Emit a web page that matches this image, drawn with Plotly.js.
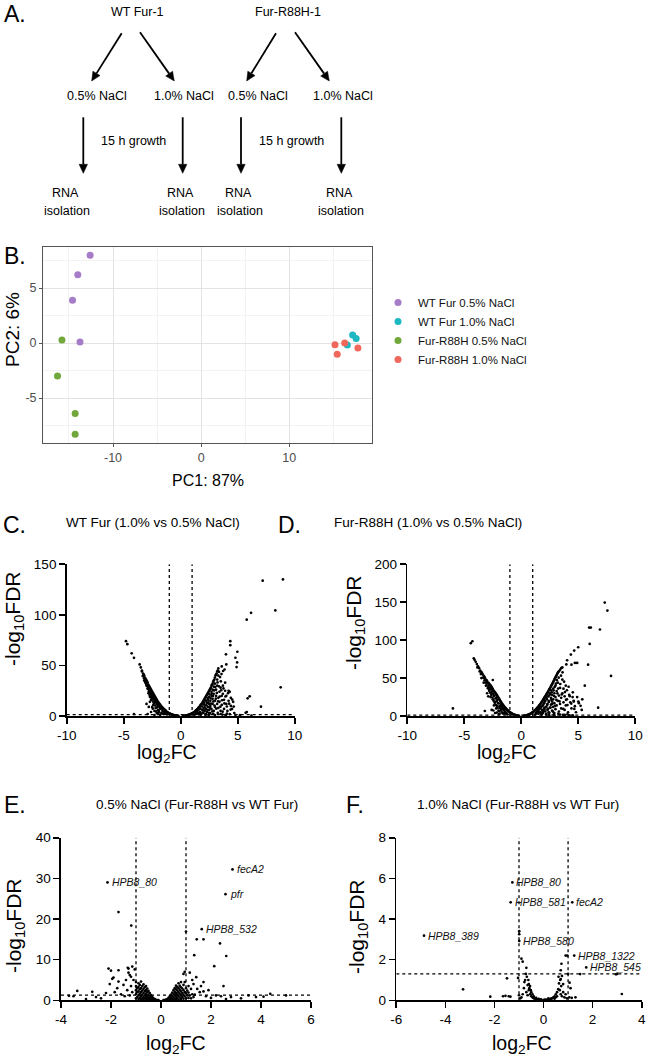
<!DOCTYPE html>
<html>
<head>
<meta charset="utf-8">
<script src="https://cdn.plot.ly/plotly-3.0.1.min.js"></script>
<style>
html,body{margin:0;padding:0;background:#fff;}
#chart{width:650px;height:1060px;}
</style>
</head>
<body>
<div id="chart"></div>
<script>
// ---------------- DATA ----------------
// Panel B : PCA (PC1, PC2)
const pcaGroups = ['WT Fur 0.5% NaCl', 'WT Fur 1.0% NaCl', 'Fur-R88H 0.5% NaCl', 'Fur-R88H 1.0% NaCl'];
const pcaWT05x = [-12.6, -14.0, -14.6, -13.75];
const pcaWT05y = [7.97, 6.2, 3.9, 0.1];
const pcaWT10x = [17.2, 17.6, 16.6];
const pcaWT10y = [0.73, 0.42, -0.18];
const pcaR05x = [-15.8, -16.3, -14.3, -14.3];
const pcaR05y = [0.27, -3.0, -6.4, -8.3];
const pcaR10x = [15.2, 15.45, 16.3, 17.8];
const pcaR10y = [-0.15, -1.03, 0.0, -0.45];
const pcaColors = ['#A67BC8', '#1DB8C1', '#72A83B', '#F0675C'];

// Panel C : WT Fur (1.0% vs 0.5% NaCl)  [log2FC, -log10FDR]
const volcanoC = [
[7.19,133.8],[8.97,135],[8.3,104.4],[6.17,102],[5.79,95.2],[8.77,28.4],[5.87,17.5],[6.05,19.5],[7.04,9.2],[5.8,4],[5.7,3.2],
[4.35,74],[4.35,70],[3.97,61],[4.97,63.5],[4.8,57.6],[4.95,53],[4.9,48.4],[4.0,51],[3.6,49],
[0.2,0.1],[0.3,0.2],[0.4,0.4],[0.5,0.6],[0.6,0.9],[0.7,1.2],[0.8,1.6],[0.9,2],[1.0,2.6],[1.1,3.2],[1.2,4],[1.3,5],[1.4,6],[1.5,7.2],[1.6,8.5],[1.7,10],[1.8,11.5],[1.9,13],[2.0,15],[2.1,17],[2.2,19],[2.3,21],[2.4,23],[2.5,25],[2.6,27],[2.7,30],[2.8,32],[2.9,35],[3.0,38],[3.1,41],[3.2,44],[3.3,47],
[3.25,45],[3.15,42],[3.05,40],[2.95,36],[2.85,34],[2.75,31],[2.65,28],[2.55,26],[2.45,24],[2.35,22],[2.25,20],[2.15,18],[2.05,16],[1.95,14],[1.85,12],[1.75,11],[1.65,9],[1.55,8],[1.45,6.6],[1.35,5.5],[1.25,4.5],[1.15,3.6],[1.05,2.9],[0.95,2.3],[0.85,1.8],[0.75,1.4],[0.65,1],[0.55,0.7],[0.45,0.5],[0.35,0.3],
[1.2,1],[1.4,2],[1.5,3],[1.6,1.5],[1.7,4],[1.8,2],[1.9,6],[2.0,3],[2.0,8],[2.1,5],[2.1,11],[2.2,2],[2.2,7],[2.3,13],[2.3,4],[2.4,9],[2.4,16],[2.5,6],[2.5,12],[2.5,19],[2.6,3],[2.6,10],[2.6,15],[2.7,7],[2.7,20],[2.7,24],[2.8,12],[2.8,17],[2.8,26],[2.9,5],[2.9,22],[2.9,29],[3.0,9],[3.0,15],[3.0,32],[3.1,20],[3.1,26],[3.2,12],[3.2,30],[3.2,36],[3.3,8],[3.3,18],[3.3,40],[3.4,24],[3.4,14],[3.5,28],[3.5,5],[3.6,20],[3.6,11],[3.7,22],[3.7,30],[3.8,16],[3.8,7],[3.9,25],[3.9,33],[4.0,12],[4.0,20],[4.1,5],[4.2,15],[4.2,25],[4.3,2],[4.4,10],[4.4,18],[4.5,7],[4.6,14],[4.7,3],[4.3,24],[3.5,2],[3.0,1],[2.5,1.5],[4.8,1],[5.2,0.8],[6.2,0.5],
[1.33,2.4],[1.47,4.1],[1.58,6.3],[1.62,2.7],[1.73,7.1],[1.77,1.2],[1.86,9.4],[1.92,3.4],[1.98,11.6],[2.03,5.5],[2.07,13.3],[2.12,8.7],[2.17,1.1],[2.23,15.2],[2.27,10.6],[2.33,6.1],[2.37,17.8],[2.42,13.5],[2.46,3.2],[2.52,21.5],[2.57,8.2],[2.63,17.4],[2.67,12.3],[2.72,22.1],[2.78,4.7],[2.83,19.7],[2.87,14.4],[2.93,25.3],[2.97,10.4],[3.03,28.6],[3.08,17.2],[3.12,7.3],[3.17,22.8],[3.23,33.2],[3.28,14.6],[3.35,29.4],[3.42,19.2],[3.48,9.2],[3.55,25.5],[3.62,15.6],[3.68,4.3],[3.75,27.3],[3.83,12.5],[3.92,19.3],[4.05,9.4],[4.15,22.6],[4.25,12.2],[4.38,6.4],[4.52,16.3],[4.65,9.3],[3.45,38.5],[3.52,34.3],[3.36,43.6],[3.58,41.5],[3.72,44.5],[3.85,46],[2.45,1.1],[2.85,2.2],[3.25,3.1],[3.65,1.4],[4.05,2.3],[3.95,0.8],
[-4.8,74],[-4.68,71],[-4.3,62],[-4.1,57.5],[-3.6,51],[-3.5,48],[-3.4,45],[-4.1,2],[-2.7,14],[-2.6,4],[-2.9,2],
[-0.2,0.1],[-0.3,0.2],[-0.4,0.4],[-0.5,0.6],[-0.6,0.9],[-0.7,1.2],[-0.8,1.6],[-0.9,2],[-1.0,2.6],[-1.1,3.2],[-1.2,4],[-1.3,5],[-1.4,6],[-1.5,7],[-1.6,8.3],[-1.7,9.5],[-1.8,11],[-1.9,12.5],[-2.0,14],[-2.1,16],[-2.2,18],[-2.3,20],[-2.4,22],[-2.5,24],[-2.6,26],[-2.7,28],[-2.8,30],[-2.9,33],[-3.0,35],[-3.1,37],[-3.2,40],[-3.3,42],[-3.4,44],
[-0.35,0.3],[-0.45,0.5],[-0.55,0.7],[-0.65,1],[-0.75,1.4],[-0.85,1.8],[-0.95,2.3],[-1.05,2.9],[-1.15,3.6],[-1.25,4.5],[-1.35,5.5],[-1.45,6.5],[-1.55,7.6],[-1.65,8.9],[-1.75,10.2],[-1.85,11.7],[-1.95,13.2],[-2.05,15],[-2.15,17],[-2.25,19],[-2.35,21],[-2.45,23],[-2.55,25],[-2.65,27],[-2.75,29],[-2.85,31],[-2.95,34],[-3.05,36],[-3.15,38],[-3.25,41],
[-1.2,1.5],[-1.4,3],[-1.5,2],[-1.6,5],[-1.7,3],[-1.8,7],[-1.9,4],[-2.0,10],[-2.0,6],[-2.1,12],[-2.1,3],[-2.2,8],[-2.2,14],[-2.3,16],[-2.3,5],[-2.4,11],[-2.4,18],[-2.5,20],[-2.5,9],[-2.6,16],[-2.6,22],[-2.7,19],[-2.8,24],[-2.8,9],[-2.9,27],[-3.0,30],[-3.1,33],[-3.2,35],[-2.3,1],[-1.8,1],[-3.0,12],
[-1.33,2.3],[-1.47,4.2],[-1.58,6.4],[-1.63,2.5],[-1.73,7.7],[-1.88,9.1],[-1.93,5.3],[-2.03,11.8],[-2.08,8.6],[-2.17,13.6],[-2.23,10.4],[-2.27,15.1],[-2.33,12.6],[-2.37,17.7],[-2.43,14.3],[-2.47,19.4],[-2.53,16.4],[-2.57,21.5],[-2.63,18.6],[-2.67,23.3],[-2.73,20.7],[-2.77,25.4],[-2.83,22.5],[-2.87,27.5],[-2.93,29.6],[-3.03,31.7],[-3.12,34.3],[-3.22,37.2],[-3.33,39.5],[-1.97,2.6],[-2.45,7.3],[-2.15,4.6]
];

// Panel D : Fur-R88H (1.0% vs 0.5% NaCl)
const volcanoD = [
[7.32,149.5],[7.55,139],[5.95,116.5],[6.1,116.5],[6.9,114],[6.0,95],[5.86,67.7],[7.87,52.8],[5.57,40],[6.74,11],[-6.0,10],[-3.2,6.6],[-4.43,96],[-4.29,98.5],
[4.99,90.6],[4.64,86.2],[4.35,81],[4.02,73.5],[4.4,67.7],[4.9,70],[4.7,70],[3.95,68],[5.05,17],[5.0,19],[4.52,1],[4.8,5],[5.3,8],
[0.2,0.2],[0.3,0.4],[0.4,0.7],[0.5,1.1],[0.6,1.6],[0.7,2.2],[0.8,3],[0.9,3.9],[1.0,5],[1.1,6.2],[1.2,7.5],[1.3,9],[1.4,10.7],[1.5,12.5],[1.6,14.5],[1.7,16.5],[1.8,18.8],[1.9,21],[2.0,23.5],[2.1,26],[2.2,28.5],[2.3,31],[2.4,33.5],[2.5,36],[2.6,39],[2.7,42],[2.8,45],[2.9,48],[3.0,51],[3.1,54],[3.2,57],[3.3,59],[3.4,61],[3.5,63],[3.6,64],
[0.25,0.3],[0.35,0.5],[0.45,0.9],[0.55,1.3],[0.65,1.9],[0.75,2.6],[0.85,3.4],[0.95,4.4],[1.05,5.6],[1.15,6.8],[1.25,8.2],[1.35,9.8],[1.45,11.6],[1.55,13.5],[1.65,15.5],[1.75,17.6],[1.85,19.8],[1.95,22.2],[2.05,24.6],[2.15,27],[2.25,29.6],[2.35,32],[2.45,35],[2.55,37.5],[2.65,40.5],[2.75,43.5],[2.85,46.5],[2.95,49.5],[3.05,52.5],[3.15,55.5],[3.25,58],
[1.2,2],[1.3,4],[1.4,6],[1.5,3],[1.5,8],[1.6,10],[1.7,5],[1.7,12],[1.8,2],[1.8,8],[1.9,14],[1.9,4],[2.0,10],[2.0,17],[2.1,6],[2.1,20],[2.2,12],[2.2,3],[2.2,24],[2.3,8],[2.3,16],[2.4,20],[2.4,27],[2.4,5],[2.5,11],[2.5,30],[2.6,15],[2.6,24],[2.6,34],[2.7,7],[2.7,19],[2.7,28],[2.8,12],[2.8,36],[2.8,22],[2.9,4],[2.9,30],[2.9,17],[3.0,9],[3.0,25],[3.0,40],[3.1,14],[3.1,33],[3.2,20],[3.2,44],[3.3,6],[3.3,27],[3.4,37],[3.4,16],[3.5,24],[3.5,10],[3.6,30],[3.6,48],[3.7,18],[3.7,36],[3.8,8],[3.8,26],[3.9,40],[3.9,14],[4.0,22],[4.0,34],[4.1,5],[4.2,28],[4.3,18],[4.4,10],[4.5,25],[4.6,20],[4.7,13],[4.9,25],[5.35,22],[5.2,13.5],[4.6,19],[3.4,2],[2.9,1],[3.8,1.5],[4.2,0.8],
[1.33,3.4],[1.47,6.1],[1.58,9.3],[1.62,4.7],[1.73,11.1],[1.77,2.2],[1.86,13.4],[1.92,6.4],[1.98,16.6],[2.03,8.5],[2.07,19.3],[2.12,11.7],[2.17,2.1],[2.23,22.2],[2.27,14.6],[2.33,9.1],[2.37,25.8],[2.42,18.5],[2.46,4.2],[2.52,28.5],[2.57,11.2],[2.63,21.4],[2.67,31.3],[2.72,16.1],[2.78,5.7],[2.83,33.7],[2.87,26.4],[2.93,38.3],[2.97,13.4],[3.03,42.6],[3.08,21.2],[3.12,47.3],[3.17,29.8],[3.23,36.2],[3.28,50.6],[3.35,19.4],[3.42,42.2],[3.48,53.2],[3.55,28.5],[3.62,57.6],[3.68,9.3],[3.75,45.3],[3.83,31.5],[3.92,21.3],[4.05,14.4],[4.15,38.6],[4.25,26.2],[4.38,16.4],[4.52,31.3],[4.65,9.3],[2.45,1.1],[2.85,2.2],[3.25,3.1],[3.65,1.4],[4.05,2.3],
[-0.2,0.2],[-0.3,0.4],[-0.4,0.7],[-0.5,1.1],[-0.6,1.6],[-0.7,2.2],[-0.8,3],[-0.9,3.9],[-1.0,5],[-1.1,6.2],[-1.2,7.5],[-1.3,9],[-1.4,10.7],[-1.5,12.5],[-1.6,14.5],[-1.7,16.5],[-1.8,19],[-1.9,21.5],[-2.0,24],[-2.1,26.5],[-2.2,29],[-2.3,31],[-2.4,33],[-2.5,35.5],[-2.6,38],[-2.7,40.5],[-2.8,42],[-2.9,44],[-3.0,46],[-3.1,48],[-3.2,50.5],[-3.3,53],[-3.4,55],[-3.5,58],[-3.6,60],[-3.7,63],[-3.8,65.5],[-3.9,68.5],[-4.0,71.5],[-4.1,74],[-4.17,76],
[-0.25,0.3],[-0.35,0.5],[-0.45,0.9],[-0.55,1.3],[-0.65,1.9],[-0.75,2.6],[-0.85,3.4],[-0.95,4.4],[-1.05,5.6],[-1.15,6.8],[-1.25,8.2],[-1.35,9.8],[-1.45,11.6],[-1.55,13.5],[-1.65,15.5],[-1.75,17.7],[-1.85,20],[-1.95,22.5],[-2.05,25],[-2.15,27.5],[-2.25,30],[-2.35,32],[-2.45,34],[-2.55,36.5],[-2.65,39],[-2.75,41],[-2.85,43],[-3.05,47],[-3.25,51.5],[-3.45,56.5],
[-1.2,2],[-1.3,4],[-1.4,6],[-1.5,3],[-1.5,8],[-1.6,10],[-1.7,5],[-1.7,13],[-1.8,8],[-1.8,15],[-1.9,3],[-1.9,11],[-2.0,17],[-2.0,7],[-2.1,13],[-2.1,21],[-2.2,10],[-2.2,24],[-2.3,18],[-2.4,14],[-2.4,27],[-2.5,22],[-2.5,47.5],[-2.6,30],[-2.7,25],[-2.8,33],[-2.9,26],[-2.9,38],[-3.0,30],[-3.1,40],[-3.3,44],[-3.5,50],[-2.3,4],[-2.6,8],
[-1.33,3.3],[-1.47,5.2],[-1.58,8.4],[-1.63,3.5],[-1.73,10.7],[-1.88,13.1],[-1.93,6.3],[-2.03,16.8],[-2.08,10.6],[-2.17,19.6],[-2.23,14.4],[-2.27,23.1],[-2.33,17.6],[-2.37,26.7],[-2.43,20.3],[-2.47,29.4],[-2.53,24.4],[-2.57,32.5],[-2.63,27.6],[-2.67,35.3],[-2.73,30.7],[-2.77,37.4],[-2.83,34.5],[-2.87,40.5],[-2.93,36.6],[-3.03,42.7],[-3.12,44.3],[-3.22,47.2],[-3.33,50.5],[-3.55,55.3],[-3.65,58.8],[-3.85,64.1],[-1.97,2.6],[-2.45,7.3],[-2.15,4.6]
];

// Panel E : 0.5% NaCl (Fur-R88H vs WT Fur)
const volcanoE = [
[-2.14,29.0],[2.86,32.2],[2.58,26.1],[1.63,17.5],
[-1.7,21.7],[-1.19,18.4],[1.0,16.9],[1.43,15],[1.7,15],[2.36,14],[2.61,10.9],[1.33,11.1],[2.13,8.4],[2.5,3.5],
[-2.1,7.8],[-2.0,7.3],[-1.7,7.4],[-1.3,7.8],[-1.05,7.6],[-1.25,6.2],[-1.15,8.3],[-1.33,8.0],[-1.9,5.6],[-1.7,4.6],[-1.95,5.3],[-1.4,5],[-1.5,3.8],[-1.75,3],[-1.35,2.5],[-2.05,4],[-1.6,1.5],[-1.2,3.5],[-1.1,5],[-1.15,2],[-1.0,4.5],[-1.3,6.8],[-1.2,5.8],[-1.45,1],[-1.85,2],[-1.25,1.2],
[-3.5,1.0],[-3.35,2.3],[-2.75,2.1],[-2.2,1.8],[-2.4,0.5],[-3.68,1.1],[-3.0,0.3],[-2.6,0.8],
[1.41,5.7],[1.7,4.5],[2.2,1.2],[2.4,1.0],[4.37,1.6],[3.8,0.8],[3.2,0.5],[2.8,0.8],[1.9,2.5],[1.6,3.5],[1.8,1],[2.0,0.6],[2.6,0.3],[1.55,2],[1.2,2.8],[1.15,6.8],[0.95,7],[0.9,6.5],[1.3,4],[1.25,5],[1.1,3.5],[1.45,2.8],[1.35,1.4],[1.7,2.2],[3.5,1.2],[4.1,0.9],[5.0,1.2],
[-1.0,0.5],[-1.0,1.5],[-1.0,2.5],[-1.0,3.5],[-0.95,0.8],[-0.95,2],[-0.95,3],[-0.9,0.3],[-0.9,1.2],[-0.9,2.2],[-0.9,3.3],[-0.9,4.2],[-0.85,0.6],[-0.85,1.6],[-0.85,2.7],[-0.85,3.8],[-0.8,0.2],[-0.8,1],[-0.8,2],[-0.8,3],[-0.8,4.6],[-0.75,0.5],[-0.75,1.4],[-0.75,2.4],[-0.75,3.5],[-0.7,0.3],[-0.7,0.9],[-0.7,1.8],[-0.7,2.8],[-0.7,3.9],[-0.65,0.5],[-0.65,1.3],[-0.65,2.2],[-0.65,3.2],[-0.6,0.2],[-0.6,0.8],[-0.6,1.6],[-0.6,2.5],[-0.6,3.5],[-0.55,0.4],[-0.55,1.1],[-0.55,2],[-0.55,2.9],[-0.5,0.2],[-0.5,0.7],[-0.5,1.4],[-0.5,2.3],[-0.45,0.4],[-0.45,1],[-0.45,1.8],[-0.4,0.2],[-0.4,0.6],[-0.4,1.3],[-0.35,0.3],[-0.35,0.9],[-0.3,0.15],[-0.3,0.5],[-0.25,0.3],[-0.2,0.1],[-0.15,0.05],[-0.1,0.03],
[0.1,0.03],[0.15,0.08],[0.2,0.15],[0.25,0.3],[0.3,0.2],[0.3,0.6],[0.35,0.4],[0.35,1],[0.4,0.2],[0.4,0.7],[0.4,1.4],[0.45,0.4],[0.45,1.1],[0.45,1.9],[0.5,0.2],[0.5,0.8],[0.5,1.6],[0.5,2.5],[0.55,0.5],[0.55,1.3],[0.55,2.1],[0.55,3],[0.6,0.3],[0.6,1],[0.6,1.8],[0.6,2.7],[0.6,3.6],[0.65,0.6],[0.65,1.5],[0.65,2.4],[0.65,3.3],[0.7,0.2],[0.7,1.1],[0.7,2],[0.7,3],[0.7,4.2],[0.75,0.7],[0.75,1.6],[0.75,2.6],[0.75,3.6],[0.8,0.3],[0.8,1.2],[0.8,2.2],[0.8,3.2],[0.8,4.5],[0.85,0.8],[0.85,1.8],[0.85,2.9],[0.9,0.4],[0.9,1.4],[0.9,2.5],[0.9,3.8],[0.95,1],[0.95,2],[0.95,4.5],[1.0,0.5],[1.0,1.7],[1.0,3],[1.05,1.2],[1.05,2.4],[1.1,0.6],[1.1,1.9],[1.15,1.2],[1.2,0.5],[1.25,1.5],[1.3,0.8]
];
const labelsE = [['HPB8_80',-2.14,29.0],['fecA2',2.86,32.2],['pfr',2.58,26.1],['HPB8_532',1.63,17.5]];

// Panel F : 1.0% NaCl (Fur-R88H vs WT Fur)
const volcanoF = [
[-1.27,5.8],[-1.34,4.82],[1.17,4.82],[-4.87,3.18],[-0.99,2.92],[1.25,2.2],[1.74,1.62],
[0.9,2.2],[0.97,2.2],[-0.99,3.4],[-0.99,3.25],[-0.9,2.05],[-0.85,1.9],[-0.7,1.6],
[-3.28,0.54],[-2.17,0.18],[-1.65,0.2],[-1.55,0.22],[-1.42,0.2],[-1.35,0.18],[-1.49,1.08],[-1.04,1.1],[3.19,0.31],[1.49,1.29],[3.0,1.3],[2.95,1.28],[1.1,0.6],[1.0,1.3],[1.06,0.87],
[-0.68,1.16],[-0.6,0.8],[-0.52,0.5],[-0.75,1.0],[-0.8,0.6],[-0.85,0.3],[-0.9,0.15],[-0.7,0.4],[-0.65,0.25],[-0.6,0.5],[-0.55,0.3],[-0.5,0.2],[-0.45,0.15],[-0.4,0.1],[-0.35,0.08],[-0.55,0.7],[-0.62,1.0],[-0.72,1.3],[-0.78,0.9],[-0.5,0.4],[-0.45,0.3],[-0.4,0.2],[-0.3,0.05],[-0.25,0.04],[-0.2,0.03],[-0.15,0.02],[-0.1,0.01],[0,0.01],[0.1,0.02],[0.15,0.03],[0.2,0.04],[0.25,0.05],[0.3,0.08],[0.35,0.1],[0.4,0.15],[0.45,0.2],[0.5,0.3],[0.55,0.4],[0.6,0.55],[0.61,1.16],[0.7,1.48],[0.63,0.83],[0.73,1.8],[0.68,1.0],[0.72,0.7],[0.66,0.5],[0.7,0.3],[0.75,0.2],[0.8,0.4],[0.8,0.8],[0.85,0.15],[0.9,0.3],[0.95,0.1],[1.05,0.15],[1.15,0.12],[1.3,0.15],[0.75,1.2],[0.7,1.05],[-0.95,0.1],[-1.0,0.25],[-0.65,0.75],[-0.58,0.6],[0.55,0.2],[0.5,0.15],[0.45,0.08],[-0.3,0.12],[-0.2,0.07],[0.3,0.03],[0.2,0.1],[-0.1,0.05],[0.05,0.04]
];
const labelsF = [['HPB8_80',-1.27,5.8],['HPB8_581',-1.34,4.82],['fecA2',1.17,4.82],['HPB8_389',-4.87,3.18],['HPB8_580',-0.99,2.92],['HPB8_1322',1.25,2.2],['HPB8_545',1.74,1.62]];

// thresholds
const fcCut = [-1, 1];
const fdrCut = 1.3;

// tick labels
const ticksBx = [-10, 0, 10], tickTextBx = ['-10', '0', '10'];
const ticksBy = [-5, 0, 5], tickTextBy = ['-5', '0', '5'];
const ticksCDx = [-10, -5, 0, 5, 10], tickTextCDx = ['-10', '-5', '0', '5', '10'];
const ticksCy = [0, 50, 100, 150];
const ticksDy = [0, 50, 100, 150, 200];
const ticksEx = [-4, -2, 0, 2, 4, 6], tickTextEx = ['-4', '-2', '0', '2', '4', '6'];
const ticksEy = [0, 10, 20, 30, 40];
const ticksFx = [-6, -4, -2, 0, 2, 4], tickTextFx = ['-6', '-4', '-2', '0', '2', '4'];
const ticksFy = [0, 2, 4, 6, 8];

// ---------------- LAYOUT HELPERS ----------------
const W = 650, H = 1060;
const px = v => v / W;
const py = v => 1 - v / H;
const FN = '"Liberation Sans", Arial, sans-serif';

const traces = [];
const pcaX = [pcaWT05x, pcaWT10x, pcaR05x, pcaR10x];
const pcaY = [pcaWT05y, pcaWT10y, pcaR05y, pcaR10y];
pcaGroups.forEach((g, i) => {
  traces.push({type: 'scatter', mode: 'markers', name: g, x: pcaX[i], y: pcaY[i],
    xaxis: 'x', yaxis: 'y', marker: {color: pcaColors[i], size: 7}, cliponaxis: false});
});
function volcanoTrace(pts, ax) {
  return {type: 'scatter', mode: 'markers', x: pts.map(p => p[0]), y: pts.map(p => p[1]),
    xaxis: 'x' + ax, yaxis: 'y' + ax, showlegend: false, cliponaxis: false,
    marker: {color: '#000', size: 2.7}};
}
traces.push(volcanoTrace(volcanoC, 2));
traces.push(volcanoTrace(volcanoD, 3));
traces.push(volcanoTrace(volcanoE, 4));
traces.push(volcanoTrace(volcanoF, 5));

function vx(domain, range, tv, tt, anchor) {
  return {domain: domain, range: range, tickvals: tv, ticktext: tt, anchor: anchor,
    showline: true, linecolor: '#000', linewidth: 1.6, ticks: 'outside', ticklen: 6, tickwidth: 1.6,
    tickcolor: '#000', showgrid: false, zeroline: false, tickfont: {family: FN, size: 13.5, color: '#000'}};
}
const yCy = [0.3245, 0.4677], yEy = [0.0563, 0.2097];

const layout = {
  width: W, height: H, margin: {l: 0, r: 0, t: 0, b: 0},
  paper_bgcolor: '#fff', plot_bgcolor: '#fff',
  font: {family: FN, color: '#000'},
  showlegend: true,
  legend: {x: px(378), y: py(288), xanchor: 'left', yanchor: 'top', font: {family: FN, size: 11.5, color: '#111'},
    bgcolor: 'rgba(0,0,0,0)', tracegroupgap: 0, itemwidth: 30},
  xaxis: {domain: [px(43), px(372)], range: [-17.95, 19.4], anchor: 'y', tickvals: ticksBx, ticktext: tickTextBx,
    showline: true, mirror: true, linecolor: '#555', linewidth: 1, ticks: 'outside', ticklen: 3, tickcolor: '#555',
    showgrid: true, gridcolor: '#e3e3e3', gridwidth: 1, zeroline: false,
    minor: {dtick: 5, tick0: 0, showgrid: true, gridcolor: '#f2f2f2', gridwidth: 1},
    tickfont: {family: FN, size: 12.5, color: '#4d4d4d'}},
  yaxis: {domain: [py(442.7), py(247)], range: [-9.06, 8.73], anchor: 'x', tickvals: ticksBy, ticktext: tickTextBy,
    showline: true, mirror: true, linecolor: '#555', linewidth: 1, ticks: 'outside', ticklen: 3, tickcolor: '#555',
    showgrid: true, gridcolor: '#e3e3e3', gridwidth: 1, zeroline: false,
    minor: {dtick: 2.5, tick0: 0, showgrid: true, gridcolor: '#f2f2f2', gridwidth: 1},
    tickfont: {family: FN, size: 12.5, color: '#4d4d4d'}},
  xaxis2: vx([px(66.7), px(294.7)], [-10, 10], ticksCDx, tickTextCDx, 'y2'),
  yaxis2: vx(yCy, [0, 150], ticksCy, ticksCy.map(String), 'x2'),
  xaxis3: vx([px(407.3), px(635.3)], [-10, 10], ticksCDx, tickTextCDx, 'y3'),
  yaxis3: vx(yCy, [0, 200], ticksDy, ticksDy.map(String), 'x3'),
  xaxis4: vx([px(61), px(311)], [-4, 6], ticksEx, tickTextEx, 'y4'),
  yaxis4: vx(yEy, [0, 40], ticksEy, ticksEy.map(String), 'x4'),
  xaxis5: vx([px(396.3), px(641.7)], [-6, 4], ticksFx, tickTextFx, 'y5'),
  yaxis5: vx(yEy, [0, 8], ticksFy, ticksFy.map(String), 'x5'),
  shapes: [],
  annotations: []
};

// threshold lines
const vPanels = [[2, [-10, 10], 150], [3, [-10, 10], 200], [4, [-4, 6], 40], [5, [-6, 4], 8]];
vPanels.forEach(([a, xr, ytop]) => {
  fcCut.forEach(c => layout.shapes.push({type: 'line', xref: 'x' + a, yref: 'y' + a, x0: c, x1: c, y0: 0, y1: ytop,
    line: {color: '#000', width: 1.3, dash: 'dot'}}));
  layout.shapes.push({type: 'line', xref: 'x' + a, yref: 'y' + a, x0: xr[0], x1: xr[1], y0: fdrCut, y1: fdrCut,
    line: {color: '#000', width: 1.3, dash: 'dot'}});
});

const ann = layout.annotations;
function txt(t, x, y, size, opts) {
  ann.push(Object.assign({text: t, xref: 'paper', yref: 'paper', x: px(x), y: py(y), showarrow: false,
    xanchor: 'center', yanchor: 'middle', font: {family: FN, size: size, color: '#000'}}, opts || {}));
}
// panel letters
txt('A.', 2, 14, 23, {xanchor: 'left'});
txt('B.', 2, 256, 23, {xanchor: 'left'});
txt('C.', 1, 525, 23, {xanchor: 'left'});
txt('D.', 276, 525, 23, {xanchor: 'left'});
txt('E.', 2, 805, 23, {xanchor: 'left'});
txt('F.', 344, 805, 23, {xanchor: 'left'});

// Panel A flow chart
const flowTop = [['WT Fur-1', 137.7], ['Fur-R88H-1', 288]];
flowTop.forEach(([t, x]) => txt(t, x, 12, 12.5));
const flowMid = [['0.5% NaCl', 96.7], ['1.0% NaCl', 184], ['0.5% NaCl', 257.7], ['1.0% NaCl', 342.7]];
flowMid.forEach(([t, x]) => txt(t, x, 96, 12.5));
txt('15 h growth', 133.3, 141, 12.5);
txt('15 h growth', 291, 141, 12.5);
const flowBottom = [65.5, 180, 238.5, 339.5];
flowBottom.forEach(x => { txt('RNA', x, 192.5, 12.5); txt('isolation', x + 1.5, 211, 12.5); });

// arrows drawn as line + filled head
function arrow(tx, ty, hx, hy) {
  const dx = hx - tx, dy = hy - ty, L = Math.hypot(dx, dy);
  const ux = dx / L, uy = dy / L, hl = 9, hw = 4.2;
  const bx = hx - ux * hl, by = hy - uy * hl;
  layout.shapes.push({type: 'line', xref: 'paper', yref: 'paper', x0: px(tx), y0: py(ty), x1: px(bx), y1: py(by),
    line: {color: '#000', width: 1.8}});
  const p1 = [bx - uy * hw, by + ux * hw], p2 = [bx + uy * hw, by - ux * hw];
  layout.shapes.push({type: 'path', xref: 'paper', yref: 'paper',
    path: `M ${px(hx)} ${py(hy)} L ${px(p1[0])} ${py(p1[1])} L ${px(p2[0])} ${py(p2[1])} Z`,
    fillcolor: '#000', line: {color: '#000', width: 0.5}});
}
arrow(121.7, 33.3, 91.7, 81);
arrow(140, 32.3, 174.3, 81);
arrow(276, 33.3, 246.7, 81);
arrow(295, 32.3, 329.3, 81);
[83.3, 182.7, 241, 341.3].forEach(x => arrow(x, 117.3, x, 173.3));

// Panel B axis titles
txt('PC1: 87%', 208, 481, 16);
txt('PC2: 6%', 12, 330, 19, {textangle: -90});

// Volcano titles
txt('WT Fur (1.0% vs 0.5% NaCl)', 153, 522.5, 13.5);
txt('Fur-R88H (1.0% vs 0.5% NaCl)', 428, 522.5, 13.5);
txt('0.5% NaCl (Fur-R88H vs WT Fur)', 196.7, 804, 13.5);
txt('1.0% NaCl (Fur-R88H vs WT Fur)', 518.3, 804, 13.5);

// Volcano axis titles
const xTitleLog = 'log<sub>2</sub>FC';
const yTitleLog = '-log<sub>10</sub>FDR';
txt(xTitleLog, 167, 753, 19.5);
txt(xTitleLog, 506.7, 753, 19.5);
txt(xTitleLog, 176, 1044, 19.5);
txt(xTitleLog, 522, 1044, 19.5);
const yT = {textangle: -90};
txt(yTitleLog, 14, 619, 21, yT);
txt(yTitleLog, 355, 622, 21, yT);
txt(yTitleLog, 15, 926, 21, yT);
txt(yTitleLog, 358, 927, 21, yT);

// gene labels
function geneLabels(list, a) {
  list.forEach(([t, x, y]) => ann.push({text: '<i>' + t + '</i>', xref: 'x' + a, yref: 'y' + a, x: x, y: y,
    xanchor: 'left', yanchor: 'middle', xshift: 2, showarrow: false,
    font: {family: FN, size: 10.5, color: '#111'}}));
}
geneLabels(labelsE, 4);
geneLabels(labelsF, 5);

Plotly.newPlot('chart', traces, layout, {staticPlot: true, displayModeBar: false});
</script>
</body>
</html>
